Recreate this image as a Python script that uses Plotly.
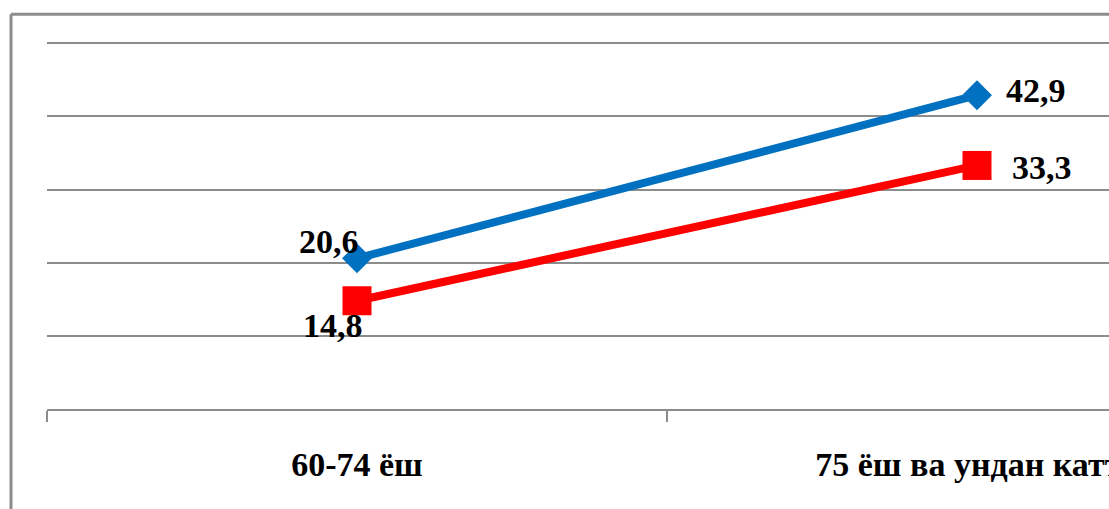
import plotly.graph_objects as go

categories = ["60-74 ёш", "75 ёш ва ундан катта"]
series_blue = [20.6, 42.9]
series_red = [14.8, 33.3]
blue_labels = ["20,6", "42,9"]
red_labels = ["14,8", "33,3"]

x_idx = list(range(len(categories)))
GRID = "#8c8c8c"
FONT = "Times New Roman"

fig = go.Figure()
fig.add_trace(go.Scatter(
    x=x_idx, y=series_blue, mode="lines+markers",
    line=dict(color="#0070C0", width=8),
    marker=dict(symbol="diamond", size=23, color="#0070C0"),
    showlegend=False, hoverinfo="skip", cliponaxis=False))
fig.add_trace(go.Scatter(
    x=x_idx, y=series_red, mode="lines+markers",
    line=dict(color="#FF0000", width=8),
    marker=dict(symbol="square", size=29, color="#FF0000"),
    showlegend=False, hoverinfo="skip", cliponaxis=False))

# data labels
ann = []
ann.append(dict(x=x_idx[0], y=series_blue[0], text="<b>" + blue_labels[0] + "</b>", xanchor="center", yanchor="middle", xshift=-28, yshift=17))
ann.append(dict(x=x_idx[0], y=series_red[0], text="<b>" + red_labels[0] + "</b>", xanchor="center", yanchor="middle", xshift=-24, yshift=-25))
ann.append(dict(x=x_idx[1], y=series_blue[1], text="<b>" + blue_labels[1] + "</b>", xanchor="left", yanchor="middle", xshift=27, yshift=5))
ann.append(dict(x=x_idx[1], y=series_red[1], text="<b>" + red_labels[1] + "</b>", xanchor="left", yanchor="middle", xshift=33, yshift=-2))
for a in ann:
    a.update(showarrow=False, xref="x", yref="y",
             font=dict(family=FONT, size=34, color="black"))
fig.update_layout(annotations=ann)

# outer chart border (left and top edges visible); plot height = 373.3 px
fig.add_shape(type="line", xref="paper", yref="paper",
              x0=-0.0339, x1=-0.0339, y0=-0.5, y1=1.058,
              line=dict(color=GRID, width=3))
fig.add_shape(type="line", xref="paper", yref="paper",
              x0=-0.0339, x1=1.2, y0=1.058, y1=1.058,
              line=dict(color=GRID, width=3))

fig.update_xaxes(
    range=[-0.5, 1.2129],
    tickvals=x_idx, ticktext=["<b>" + c + "</b>" for c in categories],
    ticks="", showgrid=False, zeroline=False, automargin=False,
    showline=True, linecolor=GRID, linewidth=2,
    tickfont=dict(family=FONT, size=34, color="black"),
    ticklabelstandoff=24, ticklabeloverflow="allow",
    minor=dict(tickvals=[-0.5, 0.5, 1.5], ticks="outside", ticklen=11,
               tickcolor=GRID, tickwidth=2, showgrid=False),
)
fig.update_yaxes(
    range=[0, 51], tickvals=[10, 20, 30, 40, 50], showticklabels=False, ticks="",
    showgrid=True, gridcolor=GRID, gridwidth=2, zeroline=False, showline=False,
    automargin=False,
)
fig.update_layout(
    width=1109, height=509,
    margin=dict(l=47, r=0, t=35.7, b=100, autoexpand=False),
    paper_bgcolor="white", plot_bgcolor="white",
)
fig.write_html("out.html")
